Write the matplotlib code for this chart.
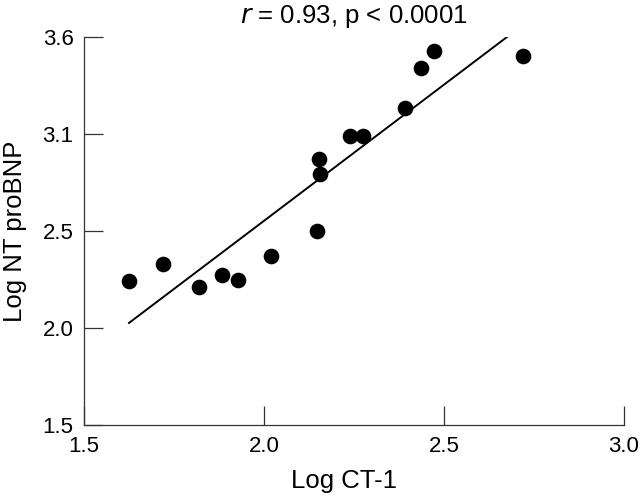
import matplotlib
matplotlib.use("Agg")
import matplotlib.pyplot as plt

# Log CT-1 vs Log NT proBNP (y values in axis-position units; ticks relabelled as in the source)
ct1 = [1.625, 1.719, 1.819, 1.883, 1.928, 2.019, 2.147, 2.153, 2.156,
       2.239, 2.275, 2.392, 2.436, 2.472, 2.719]
ntprobnp = [2.242, 2.330, 2.211, 2.273, 2.247, 2.371, 2.500, 2.871, 2.794,
            2.990, 2.990, 3.134, 3.340, 3.428, 3.402]
fit_x = [1.625, 2.675]
fit_y = [2.026, 3.500]

x_ticks = [1.5, 2.0, 2.5, 3.0]
x_labels = ["1.5", "2.0", "2.5", "3.0"]
y_ticks = [1.5, 2.0, 2.5, 3.0, 3.5]
y_labels = ["1.5", "2.0", "2.5", "3.1", "3.6"]

plt.rcParams["font.family"] = ["Liberation Sans", "DejaVu Sans"]

fig = plt.figure(figsize=(6.4, 4.96), dpi=100)
ax = fig.add_axes([84 / 640, 1 - 425 / 496, 540 / 640, 388 / 496])

ax.scatter(ct1, ntprobnp, s=105, color="black", zorder=3, clip_on=False)
ax.plot(fit_x, fit_y, color="black", lw=1.4)

ax.set_xlim(1.5, 3.0)
ax.set_ylim(1.5, 3.5)
ax.set_xticks(x_ticks)
ax.set_xticklabels(x_labels)
ax.set_yticks(y_ticks)
ax.set_yticklabels(y_labels)
ax.tick_params(direction="in", length=13.5, width=0.9, labelsize=16, color="#333333")
ax.tick_params(axis="x", pad=8)
ax.tick_params(axis="y", pad=7.5)

for side in ("top", "right"):
    ax.spines[side].set_visible(False)
for side in ("left", "bottom"):
    ax.spines[side].set_linewidth(0.9)
    ax.spines[side].set_color("#333333")

ax.set_xlabel("Log CT-1", fontsize=18.5)
ax.xaxis.set_label_coords(0.481, -0.114, transform=ax.transAxes)
ax.xaxis.label.set_va("top")
ax.set_ylabel("Log NT proBNP", fontsize=18.5, labelpad=11)
ax.set_title(r"$\it{r}$ = 0.93, p < 0.0001", fontsize=18.5, pad=10)

fig.savefig("out.png", dpi=100)
